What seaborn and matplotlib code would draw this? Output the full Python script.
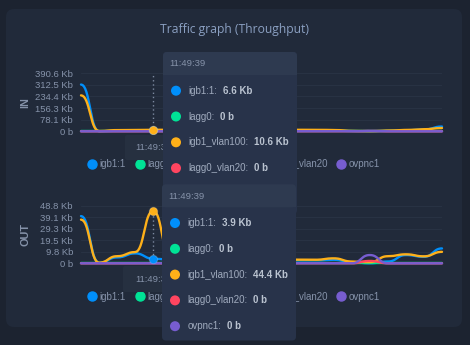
import numpy as np
import pandas as pd
import matplotlib
matplotlib.use("Agg")
import matplotlib.pyplot as plt
import seaborn as sns
from matplotlib.patches import FancyBboxPatch, Circle
from matplotlib.lines import Line2D
import matplotlib.transforms as mtrans

# ---------------- data ----------------
series = ["igb1:1", "lagg0", "igb1_vlan100", "lagg0_vlan20", "ovpnc1"]
colors = ["#008FFB", "#00E396", "#FEB019", "#FF4560", "#775DD0"]
times = ["11:49:23", "11:49:27", "11:49:31", "11:49:35", "11:49:39", "11:49:43",
         "11:49:47", "11:49:51", "11:49:55", "11:49:59", "11:50:03", "11:50:07",
         "11:50:11", "11:50:15", "11:50:19", "11:50:23", "11:50:27", "11:50:31",
         "11:50:35", "11:50:39", "11:50:43"]

# IN traffic (Kb)
in_igb1 = [315, 0, 4, 5, 6.6, 5, 5, 5, 5, 5, 5, 5, 6, 6, 5, 2, 0, 3, 7, 12, 32]
in_lagg0 = [0] * 21
in_vlan100 = [242, 2, 8, 9, 10.6, 9, 9, 9, 9, 9, 9, 9, 10, 10, 9, 3, 1, 5, 9, 14, 22]
in_vlan20 = [0, 0, 0, 0, 0, 0, 0, 0, 0, 0, 0, 0, 0, 0, 0, 0, 2, 0, 0, 0, 0]
in_ovpnc1 = [0, 0, 0, 0, 0, 0, 0, 0, 0, 0, 0, 0, 0, 0, 0, 0, 3, 0, 0, 0, 0]

# OUT traffic (Kb)
out_igb1 = [40, 0.5, 5, 8.4, 3.9, 3, 3, 3, 3, 3, 3, 3, 2.5, 2.5, 3, 1, 0, 1.5, 7, 5.5, 12.6]
out_lagg0 = [0] * 21
out_vlan100 = [37, 0.5, 6, 9.5, 44.4, 3, 3, 3, 3, 3, 3, 3, 3.1, 3, 4.2, 1.5, 1, 6, 7.6, 5.9, 9.7]
out_vlan20 = [0, 0, 0, 0, 0, 0, 0, 0, 0, 0, 0, 0, 0, 0, 0, 0, 2, 0, 0, 0, 0]
out_ovpnc1 = [0, 0, 0, 0, 0, 0, 0, 0, 0, 0, 0, 0, 0, 0, 0, 0, 7, 0, 0, 0, 0]

in_ticks = [0, 78.1, 156.3, 234.4, 312.5, 390.6]
in_ticklabels = ["0 b", "78.1 Kb", "156.3 Kb", "234.4 Kb", "312.5 Kb", "390.6 Kb"]
out_ticks = [0, 9.8, 19.5, 29.3, 39.1, 48.8]
out_ticklabels = ["0 b", "9.8 Kb", "19.5 Kb", "29.3 Kb", "39.1 Kb", "48.8 Kb"]

hover_idx = 4
title = "Traffic graph (Throughput)"

# ---------------- style ----------------
sns.set_style("dark")
plt.rcParams["font.family"] = ["Liberation Sans", "DejaVu Sans"]

OUTER = "#1c2330"
CARD = "#212a3a"
TIP_BODY = "#28334a"
TIP_HEAD = "#2e3a50"
XTIP = "#263040"
MUTED = "#8693aa"
LABEL = "#a0abbe"
VALUE = "#bac3d0"

W, H = 470, 345
fig = plt.figure(figsize=(W / 100, H / 100), dpi=100, facecolor=OUTER)


def rect(x0, y0, x1, y1):
    return [x0 / W, 1 - y1 / H, (x1 - x0) / W, (y1 - y0) / H]


# background card
bg = fig.add_axes([0, 0, 1, 1], zorder=-1)
bg.set_xlim(0, W); bg.set_ylim(H, 0); bg.axis("off")
bg.add_patch(FancyBboxPatch((6, 9), 456, 318, boxstyle="round,pad=0,rounding_size=8",
                            fc=CARD, ec="none"))

fig.text(234 / W, 1 - 30 / H, title, ha="center", va="center", fontsize=8.7,
         family=["Open Sans", "DejaVu Sans"], color="#8ba0c2")


def smooth(xs, ys, n=16):
    X, Y = [], []
    for i in range(len(xs) - 1):
        t = np.linspace(0, 1, n, endpoint=False)
        x0, x1, y0, y1 = xs[i], xs[i + 1], ys[i], ys[i + 1]
        xm = (x0 + x1) / 2
        X.extend((1 - t) ** 3 * x0 + 3 * (1 - t) ** 2 * t * xm + 3 * (1 - t) * t ** 2 * xm + t ** 3 * x1)
        Y.extend((1 - t) ** 3 * y0 + 3 * (1 - t) ** 2 * t * y0 + 3 * (1 - t) * t ** 2 * y1 + t ** 3 * y1)
    X.append(xs[-1]); Y.append(ys[-1])
    return X, Y


def panel(box, vals, ticks, ticklabels, ylabel, legend_y):
    ax = fig.add_axes(rect(*box))
    ax.set_facecolor("none")
    rows = []
    x = list(range(len(times)))
    for name, v in zip(series, vals):
        sx, sy = smooth(x, v)
        rows.append(pd.DataFrame({"x": sx, "y": sy, "series": name}))
    df = pd.concat(rows, ignore_index=True)
    ax.axvline(hover_idx, color="#7c89a0", ls=(0, (1, 2)), lw=1, zorder=1)
    sns.lineplot(data=df, x="x", y="y", hue="series", hue_order=series, palette=colors,
                 sort=False, estimator=None, lw=1.7, legend=False, ax=ax, zorder=2)
    for l in ax.lines:
        l.set_clip_on(False)
    for name, v, c in zip(series, vals, colors):
        if v[hover_idx] > 0:
            ax.scatter([hover_idx], [v[hover_idx]], s=36, color=c, edgecolor="#ffffff30",
                       linewidth=0.8, zorder=5, clip_on=False)
    ax.set_xlim(0, len(times) - 1)
    ax.set_ylim(0, ticks[-1])
    ax.set_yticks(ticks)
    ax.set_yticklabels(ticklabels)
    ax.set_xticks([])
    ax.set_xlabel("")
    ax.set_ylabel(ylabel, fontsize=7.8, fontweight="bold", color=MUTED, labelpad=0)
    ax.yaxis.set_label_coords((30.5 - box[0]) / (box[2] - box[0]), 0.5)
    ax.tick_params(axis="y", length=0, pad=5.8, labelsize=6.8, labelcolor=MUTED)
    ax.grid(axis="y", color="#283243", lw=0.8)
    ax.grid(axis="x", visible=False)
    ax.set_axisbelow(True)
    for s in ax.spines.values():
        s.set_visible(False)
    handles = [Line2D([], [], marker="o", ls="", markersize=6.5, color=c) for c in colors]
    ax.legend(handles, series, loc="center", bbox_to_anchor=(234 / W, 1 - legend_y / H),
              bbox_transform=fig.transFigure, ncol=5, frameon=False, fontsize=7,
              labelcolor=MUTED, handlelength=0.9, handletextpad=0.3, columnspacing=0.96,
              borderpad=0, borderaxespad=0, numpoints=1)
    return ax


in_vals = [in_igb1, in_lagg0, in_vlan100, in_vlan20, in_ovpnc1]
out_vals = [out_igb1, out_lagg0, out_vlan100, out_vlan20, out_ovpnc1]
panel((81, 73.3, 442, 131.3), in_vals, in_ticks, in_ticklabels, "IN", 164)
panel((81, 205.7, 442, 263.3), out_vals, out_ticks, out_ticklabels, "OUT", 296.5)

# ---------------- tooltips overlay ----------------
ov = fig.add_axes([0, 0, 1, 1], zorder=10)
ov.set_xlim(0, W); ov.set_ylim(H, 0); ov.axis("off"); ov.patch.set_alpha(0)
renderer = fig.canvas.get_renderer()


def fmt(v):
    return "0 b" if v == 0 else f"{v:.1f} Kb"


def xtip(x0, y0, x1, y1):
    ov.add_patch(FancyBboxPatch((x0, y0), x1 - x0, y1 - y0,
                                boxstyle="round,pad=0,rounding_size=2", fc=XTIP, ec="none", zorder=1))
    ov.text((x0 + x1) / 2, (y0 + y1) / 2, times[hover_idx], ha="center", va="center",
            fontsize=6.8, color=MUTED, zorder=1.5)


xtip(125, 135, 181, 160)
xtip(123, 266, 183, 292)


def tooltip(x0, y0, h, vals, z):
    w = 134
    ov.add_patch(FancyBboxPatch((x0, y0), w, h, boxstyle="round,pad=0,rounding_size=4",
                                fc=TIP_BODY, ec="none", zorder=z))
    ov.add_patch(FancyBboxPatch((x0, y0), w, 23, boxstyle="round,pad=0,rounding_size=4",
                                fc=TIP_HEAD, ec="none", zorder=z + 0.1))
    ov.add_patch(plt.Rectangle((x0, y0 + 12), w, 11, fc=TIP_HEAD, ec="none", zorder=z + 0.1))
    ov.text(x0 + 6, y0 + 11.8, times[hover_idx], ha="left", va="center", fontsize=6.8,
            color=MUTED, zorder=z + 0.2)
    blend = mtrans.blended_transform_factory(mtrans.IdentityTransform(), ov.transData)
    for i, (name, v, c) in enumerate(zip(series, vals, colors)):
        yy = y0 + 38.7 + 25.8 * i
        ov.add_patch(Circle((x0 + 13, yy), 5, fc=c, ec="none", zorder=z + 0.2))
        t = ov.text(x0 + 25.5, yy, name + ":", ha="left", va="center", fontsize=7,
                    color=LABEL, zorder=z + 0.2)
        bb = t.get_window_extent(renderer)
        ov.text(bb.x1 + 5.5, yy, fmt(v[hover_idx]), ha="left", va="center", fontsize=7,
                fontweight="bold", color=VALUE, zorder=z + 0.2, transform=blend)


tooltip(163, 52, 162, in_vals, 2)
tooltip(162, 184.3, 156.2, out_vals, 3)

fig.savefig("out.png", dpi=100, facecolor=OUTER)
